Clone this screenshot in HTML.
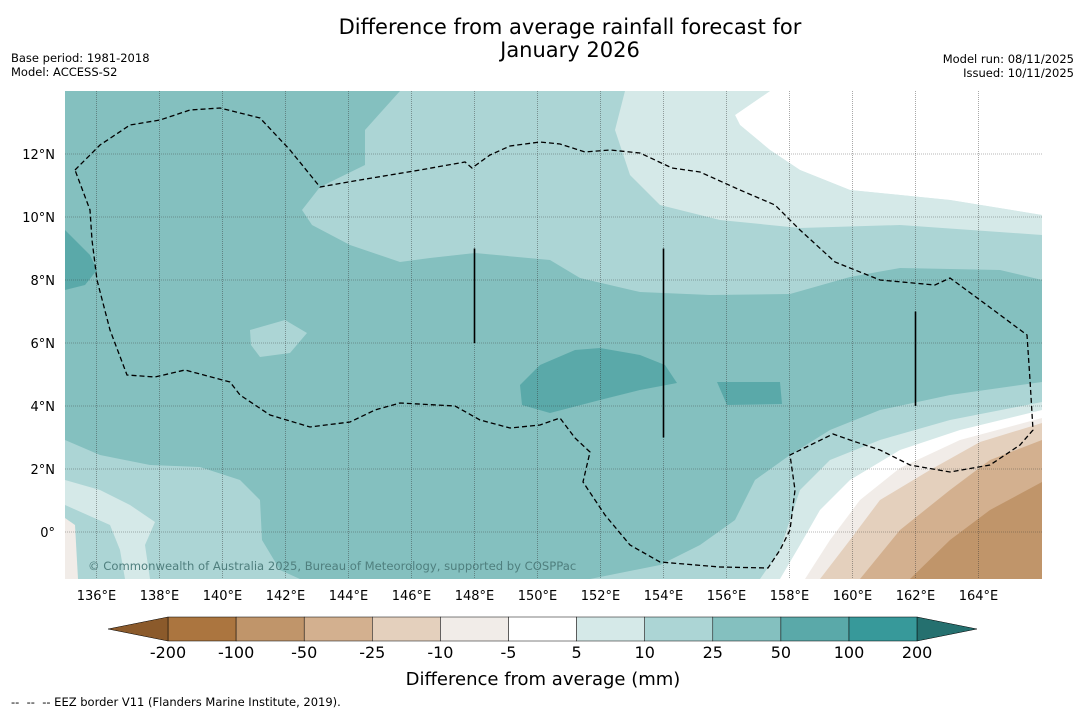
<!DOCTYPE html>
<html><head><meta charset="utf-8">
<style>
body{margin:0;background:#fff;font-family:"DejaVu Sans",sans-serif;}
svg text{font-family:"DejaVu Sans","Liberation Sans",sans-serif;}
</style></head>
<body>
<svg id="c" width="1085" height="713" viewBox="0 0 1085 713" xmlns="http://www.w3.org/2000/svg">
<text x="570" y="34" font-size="21" text-anchor="middle">Difference from average rainfall forecast for</text>
<text x="570" y="57" font-size="21" text-anchor="middle">January 2026</text>
<text x="11" y="62" font-size="11.5">Base period: 1981-2018</text>
<text x="11" y="76" font-size="11.5">Model: ACCESS-S2</text>
<text x="1074" y="63" font-size="11.5" text-anchor="end">Model run: 08/11/2025</text>
<text x="1074" y="77" font-size="11.5" text-anchor="end">Issued: 10/11/2025</text>
<defs><clipPath id="mc"><rect x="65" y="91" width="977" height="488"/></clipPath></defs>
<g id="map" clip-path="url(#mc)"></g>
<g id="axes"></g>
<g id="cbar"></g>
<text x="543" y="685" font-size="18" text-anchor="middle">Difference from average (mm)</text>
<text x="11" y="706" font-size="11.5" style="white-space:pre">--  --  -- EEZ border V11 (Flanders Marine Institute, 2019).</text>
</svg>
<script>
const lonTicks=[136,138,140,142,144,146,148,150,152,154,156,158,160,162,164];
const latTicks=[0,2,4,6,8,10,12];
const cbLevels=[-200,-100,-50,-25,-10,-5,5,10,25,50,100,200];
const cbColors=["#ab753f","#c0956a","#d3b08f","#e4d0bd","#f1ece8","#ffffff","#d5e9e8","#acd5d5","#84c0bf","#5aa9a9","#37999a"];
const lowColor="#8b5a2b", highColor="#25706f";
const X=lon=>65+(lon-135)*31.5, Y=lat=>91+(14-lat)*31.5;
const NS="http://www.w3.org/2000/svg";
function el(t,a,p){const e=document.createElementNS(NS,t);for(const k in a)e.setAttribute(k,a[k]);p.appendChild(e);return e;}
const map=document.getElementById('map');
const P=(pts)=>pts.map(([x,y])=>[135+(x-65)/31.5,14-(y-91)/31.5]);
const regions=[
 ["#84c0bf",P([[65,91],[1042,91],[1042,579],[65,579]])],
 ["#acd5d5",P([[400,91],[365,130],[365,165],[320,187],[302,210],[312,225],[350,245],[400,262],[430,258],[475,253],[550,260],[580,278],[640,292],[710,295],[790,294],[850,277],[900,268],[1000,270],[1042,280],[1042,91]])],
 ["#d5e9e8",P([[625,91],[615,130],[630,175],[660,205],[720,220],[800,228],[900,225],[1042,235],[1042,215],[950,200],[850,190],[800,170],[770,150],[740,125],[735,115],[770,91]])],
 ["#ffffff",P([[770,91],[735,115],[740,125],[770,150],[800,170],[850,190],[950,200],[1042,215],[1042,91]])],
 ["#5aa9a9",P([[65,230],[90,255],[97,270],[85,285],[65,290]])],
 ["#5aa9a9",P([[520,385],[540,365],[575,350],[600,348],[640,355],[665,365],[677,383],[640,390],[600,400],[550,413],[522,405]])],
 ["#5aa9a9",P([[717,382],[780,382],[782,404],[727,405]])],
 ["#acd5d5",P([[250,330],[285,320],[307,333],[290,353],[260,357],[251,345]])],
 ["#acd5d5",P([[65,440],[100,455],[150,465],[200,467],[240,480],[260,500],[262,540],[280,570],[300,579],[65,579]])],
 ["#d5e9e8",P([[65,480],[100,490],[130,505],[155,522],[145,545],[150,579],[125,579],[120,550],[110,525],[65,505]])],
 ["#f1ece8",P([[65,518],[75,525],[78,579],[65,579]])],
 ["#acd5d5",P([[1042,382],[950,395],[880,410],[830,430],[790,455],[755,480],[735,520],[700,545],[660,565],[590,579],[1042,579]])],
 ["#d5e9e8",P([[1042,402],[950,420],[880,440],[830,460],[800,490],[790,520],[780,550],[760,579],[1042,579]])],
 ["#ffffff",P([[1042,410],[960,430],[900,450],[850,480],[820,510],[800,545],[780,579],[1042,579]])],
 ["#f1ece8",P([[1042,418],[960,440],[900,468],[860,500],[830,540],[805,579],[1042,579]])],
 ["#e4d0bd",P([[1042,423],[980,442],[930,470],[880,500],[850,540],[820,579],[1042,579]])],
 ["#d3b08f",P([[1042,440],[990,460],[950,490],[900,530],[860,579],[1042,579]])],
 ["#c0956a",P([[1042,482],[990,510],[950,540],[910,579],[1042,579]])]
];
regions.forEach((r,i)=>{
 const p=el('polygon',{points:r[1].map(([lo,la])=>X(lo)+','+Y(la)).join(' '),fill:r[0]},map);
 
 
});
lonTicks.forEach(l=>{const g=el('line',{x1:X(l),x2:X(l),y1:91,y2:579,stroke:'#333','stroke-width':0.6,'stroke-dasharray':'1,1','stroke-opacity':0.7},map);
 });
latTicks.forEach(l=>{const g=el('line',{x1:65,x2:1042,y1:Y(l),y2:Y(l),stroke:'#333','stroke-width':0.6,'stroke-dasharray':'1,1','stroke-opacity':0.7},map);
 });
const eez=P([[75,170],[100,145],[130,125],[160,120],[190,110],[220,108],[260,118],[290,150],[320,187],[360,180],[420,170],[465,162],[472,168],[490,155],[510,146],[540,142],[560,144],[585,152],[610,150],[640,153],[672,168],[700,172],[740,190],[775,205],[800,230],[835,262],[880,280],[935,285],[950,278],[980,300],[1027,335],[1030,380],[1033,430],[1020,445],[990,465],[950,472],[910,465],[880,450],[850,440],[833,434],[790,455],[795,490],[790,530],[780,550],[768,568],[720,567],[660,562],[630,545],[605,515],[583,482],[590,452],[575,438],[560,418],[540,425],[510,428],[480,420],[455,406],[400,403],[375,410],[350,422],[310,427],[270,415],[240,395],[230,382],[185,370],[155,377],[127,375],[110,330],[97,280],[92,240],[90,210],[75,170]]);
const e=el('polyline',{points:eez.map(([lo,la])=>X(lo)+','+Y(la)).join(' '),fill:'none',stroke:'#000','stroke-width':1.3,'stroke-dasharray':'5,3'},map);

[[148,9,6],[154,9,3],[162,7,4]].forEach(([lo,a,b])=>{const v=el('line',{x1:X(lo),x2:X(lo),y1:Y(a),y2:Y(b),stroke:'#000','stroke-width':1.6},map);
 });
const cp=el('text',{x:88,y:570,'font-size':11.6,fill:'#4f7f7e'},map);cp.textContent='© Commonwealth of Australia 2025, Bureau of Meteorology, supported by COSPPac';

const ax=document.getElementById('axes');
lonTicks.forEach(l=>{const t=el('text',{x:X(l),y:600,'font-size':13,'text-anchor':'middle'},ax);t.textContent=l+'°E';
 });
latTicks.forEach(l=>{const t=el('text',{x:55,y:Y(l)+5,'font-size':13,'text-anchor':'end'},ax);t.textContent=l===0?'0°':l+'°N';
 });
const cb=document.getElementById('cbar');const bx=168,bw=68.1,by=617,bh=24;
cbColors.forEach((c,i)=>{const r=el('rect',{x:bx+i*bw,y:by,width:bw,height:bh,fill:c,stroke:'#000','stroke-width':0.5},cb);
 });
const lt=el('polygon',{points:`${bx},${by} 108,${by+bh/2} ${bx},${by+bh}`,fill:lowColor,stroke:'#000','stroke-width':0.5},cb);

const re=bx+cbColors.length*bw;
const rt=el('polygon',{points:`${re},${by} 977,${by+bh/2} ${re},${by+bh}`,fill:highColor,stroke:'#000','stroke-width':0.5},cb);

cbLevels.forEach((v,i)=>{const t=el('text',{x:bx+i*bw,y:658,'font-size':16,'text-anchor':'middle'},cb);t.textContent=v;
 });
</script>
</body></html>
